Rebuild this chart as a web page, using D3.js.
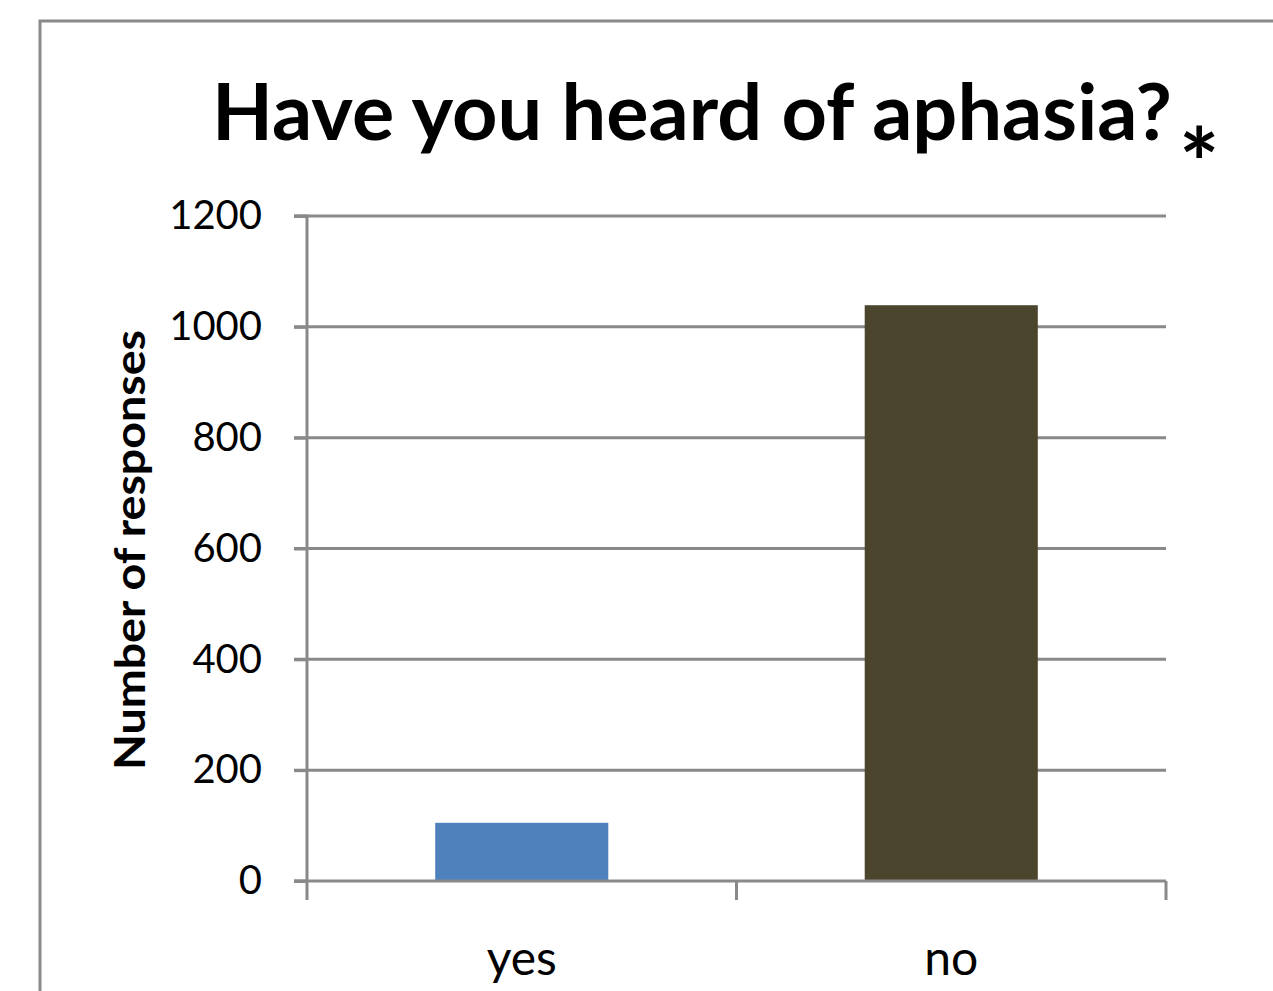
<!DOCTYPE html>
<html>
<head>
<meta charset="utf-8">
<script src="https://cdn.jsdelivr.net/npm/d3@7"></script>
<style>
  body { margin: 0; background: #fff; }
  svg { display: block; }
</style>
</head>
<body>
<div id="graf"></div>
<script>
// datos del gráfico
categorias = ['yes', 'no']
respuestas = [105, 1039]
colores = ['#4f81bd', '#4a452c']
ticksY = [0, 200, 400, 600, 800, 1000, 1200]

ancho_total = 1273
alto_total = 991
margins = {top: 216, left: 307, right: 107, bottom: 110}
ancho = ancho_total - margins.left - margins.right
alto = alto_total - margins.top - margins.bottom

gris = '#898989'
fuente = 'Lato, "Open Sans", sans-serif'

svg = d3.select('#graf').append('svg')
        .attr('width', ancho_total)
        .attr('height', alto_total)

// marco del gráfico (solo borde izquierdo y superior visibles)
svg.append('path')
   .attr('d', `M40,${alto_total + 5} L40,21 L${ancho_total + 5},21`)
   .attr('fill', 'none')
   .attr('stroke', gris)
   .attr('stroke-width', 3)

// título
titulo = svg.append('text')
   .attr('x', 212)
   .attr('y', 140)
   .attr('font-family', fuente)
   .attr('font-weight', 'bold')
   .attr('font-size', '78px')
   .attr('fill', '#000')
titulo.append('tspan')
   .attr('textLength', 960)
   .attr('lengthAdjust', 'spacingAndGlyphs')
   .text('Have you heard of aphasia?')
svg.append('text')
   .attr('x', 1179)
   .attr('y', 198)
   .attr('font-family', fuente)
   .attr('font-weight', 'bold')
   .attr('font-size', '95px')
   .text('*')

g = svg.append('g')
       .attr('transform', `translate(${margins.left}, ${margins.top})`)

x = d3.scaleBand().domain(categorias).range([0, ancho])
      .paddingInner(0.597).paddingOuter(0.2985)
y = d3.scaleLinear().domain([0, 1200]).range([alto, 0])

// líneas de cuadrícula
g.append('g')
 .selectAll('line')
 .data(ticksY.filter(d => d > 0))
 .join('line')
   .attr('x1', -13)
   .attr('x2', ancho)
   .attr('y1', d => y(d))
   .attr('y2', d => y(d))
   .attr('stroke', gris)
   .attr('stroke-width', 3)

// barras
g.selectAll('rect.barra')
 .data(respuestas)
 .join('rect')
   .attr('class', 'barra')
   .attr('x', (d, i) => x(categorias[i]))
   .attr('y', d => y(d))
   .attr('width', x.bandwidth())
   .attr('height', d => alto - y(d))
   .attr('fill', (d, i) => colores[i])

// eje Y
ejeY = d3.axisLeft(y).tickValues(ticksY).tickFormat(d3.format('d'))
         .tickSize(13).tickPadding(32)
gy = g.append('g').call(ejeY)
gy.select('.domain').attr('stroke', gris).attr('stroke-width', 3)
  .attr('d', `M-13,0H0V${alto}H-13`)
gy.selectAll('.tick line').attr('stroke', gris).attr('stroke-width', 3)
gy.selectAll('.tick text')
  .attr('font-family', fuente)
  .attr('font-size', '40px')
  .attr('fill', '#000')

// eje X
gx = g.append('g').attr('transform', `translate(0, ${alto})`)
gx.append('line')
  .attr('x1', -13).attr('x2', ancho)
  .attr('stroke', gris).attr('stroke-width', 3)
gx.selectAll('line.sep')
  .data([0, ancho / 2, ancho])
  .join('line')
    .attr('class', 'sep')
    .attr('x1', d => d).attr('x2', d => d)
    .attr('y1', 0).attr('y2', 19)
    .attr('stroke', gris).attr('stroke-width', 3)
gx.selectAll('text')
  .data(categorias)
  .join('text')
    .attr('x', d => x(d) + x.bandwidth() / 2)
    .attr('y', 94)
    .attr('text-anchor', 'middle')
    .attr('font-family', fuente)
    .attr('font-size', '48px')
    .attr('fill', '#000')
    .text(d => d)

// título del eje Y
svg.append('text')
   .attr('transform', 'translate(145, 550) rotate(-90)')
   .attr('text-anchor', 'middle')
   .attr('font-family', fuente)
   .attr('font-weight', 'bold')
   .attr('font-size', '42px')
   .attr('fill', '#000')
   .attr('textLength', 440)
   .attr('lengthAdjust', 'spacingAndGlyphs')
   .text('Number of responses')
</script>
</body>
</html>
